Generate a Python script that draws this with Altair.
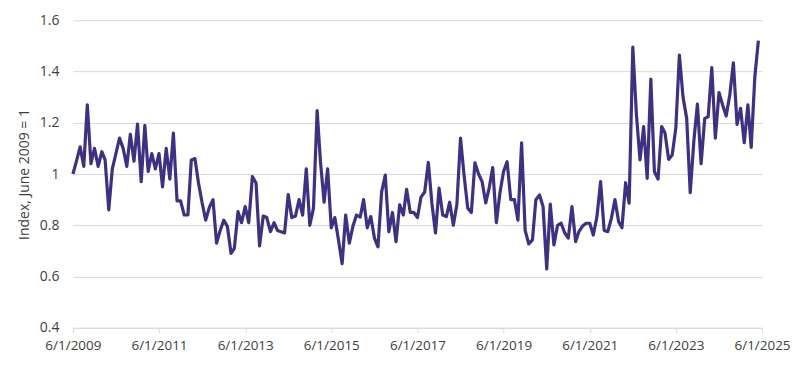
import altair as alt
import pandas as pd

# Monthly index values, June 2009 .. May 2025
values = [
    1.00, 1.05, 1.106, 1.03, 1.27, 1.04, 1.10, 1.03, 1.087, 1.055,
    0.86, 1.02, 1.08, 1.14, 1.10, 1.03, 1.155, 1.05, 1.195, 0.97,
    1.19, 1.01, 1.08, 1.02, 1.08, 0.95, 1.10, 0.98, 1.16, 0.895,
    0.895, 0.84, 0.84, 1.055, 1.06, 0.965, 0.887, 0.82, 0.87, 0.90,
    0.73, 0.78, 0.82, 0.795, 0.69, 0.71, 0.853, 0.81, 0.873, 0.81,
    0.99, 0.965, 0.72, 0.836, 0.83, 0.775, 0.81, 0.78, 0.775, 0.77,
    0.92, 0.83, 0.836, 0.90, 0.84, 1.02, 0.80, 0.867, 1.247, 1.05,
    0.89, 1.02, 0.79, 0.83, 0.743, 0.65, 0.84, 0.73, 0.795, 0.84,
    0.832, 0.90, 0.79, 0.834, 0.75, 0.716, 0.93, 0.996, 0.775, 0.85,
    0.736, 0.88, 0.84, 0.94, 0.85, 0.85, 0.83, 0.91, 0.93, 1.045,
    0.887, 0.77, 0.945, 0.84, 0.834, 0.89, 0.80, 0.88, 1.14, 0.996,
    0.867, 0.85, 1.044, 1.0, 0.97, 0.887, 0.95, 1.025, 0.81, 0.926,
    1.01, 1.048, 0.90, 0.90, 0.82, 1.122, 0.78, 0.727, 0.743, 0.90,
    0.918, 0.873, 0.63, 0.883, 0.723, 0.80, 0.808, 0.77, 0.75, 0.873,
    0.736, 0.775, 0.797, 0.808, 0.808, 0.762, 0.834, 0.97, 0.78, 0.775,
    0.827, 0.90, 0.814, 0.79, 0.966, 0.886, 1.495, 1.237, 1.055, 1.185,
    0.983, 1.37, 1.01, 0.98, 1.185, 1.16, 1.057, 1.074, 1.18, 1.464,
    1.30, 1.217, 0.927, 1.13, 1.273, 1.04, 1.217, 1.223, 1.415, 1.14,
    1.318, 1.27, 1.226, 1.31, 1.434, 1.194, 1.256, 1.122, 1.27, 1.104,
    1.38, 1.52,
]

dates = pd.date_range("2009-06-01", periods=len(values), freq="MS").strftime("%Y-%m-%d")
tick_years = list(range(2009, 2026, 2))
y_ticks = [0.4, 0.6, 0.8, 1.0, 1.2, 1.4, 1.6]

df = pd.DataFrame({"date": list(dates), "value": values})

FONT = "Open Sans"
TEXT = "#404040"
GRID = "#d9d9d9"

chart = (
    alt.Chart(df)
    .mark_line(color="#3d3182", strokeWidth=3.2, strokeJoin="round")
    .encode(
        x=alt.X(
            "date:T",
            scale=alt.Scale(
                type="utc",
                domain=[
                    alt.DateTime(year=2009, month=6, date=1, utc=True),
                    alt.DateTime(year=2025, month=6, date=1, utc=True),
                ],
            ),
            axis=alt.Axis(
                values=[alt.DateTime(year=y, month=6, date=1, utc=True) for y in tick_years],
                labelExpr="(utcmonth(datum.value) + 1) + '/' + utcdate(datum.value) + '/' + utcyear(datum.value)",
                title=None,
                grid=False,
                domain=True,
                domainColor=GRID,
                ticks=True,
                tickSize=5,
                tickColor=GRID,
                labelFont=FONT,
                labelFontSize=13.5,
                labelColor=TEXT,
                labelPadding=6,
                labelOverlap=False,
                labelFlush=False,
                labelBound=False,
            ),
        ),
        y=alt.Y(
            "value:Q",
            scale=alt.Scale(domain=[0.4, 1.6]),
            axis=alt.Axis(
                values=y_ticks,
                format="~g",
                title="Index, June 2009 = 1",
                titleFont=FONT,
                titleFontSize=14,
                titleFontWeight="normal",
                titleColor=TEXT,
                titleX=-48,
                titleY=154,
                titleAlign="center",
                titleBaseline="middle",
                titleAngle=270,
                domain=False,
                ticks=False,
                grid=True,
                gridColor=GRID,
                gridWidth=1,
                labelFont=FONT,
                labelFontSize=14,
                labelColor=TEXT,
                labelPadding=14,
            ),
        ),
    )
    .properties(
        width=690,
        height=308,
        autosize="none",
        padding={"left": 65, "top": 12, "right": 30, "bottom": 30},
    )
    .configure_view(stroke=None)
)

chart.save("out.html", embed_options={"renderer": "svg", "actions": False})
